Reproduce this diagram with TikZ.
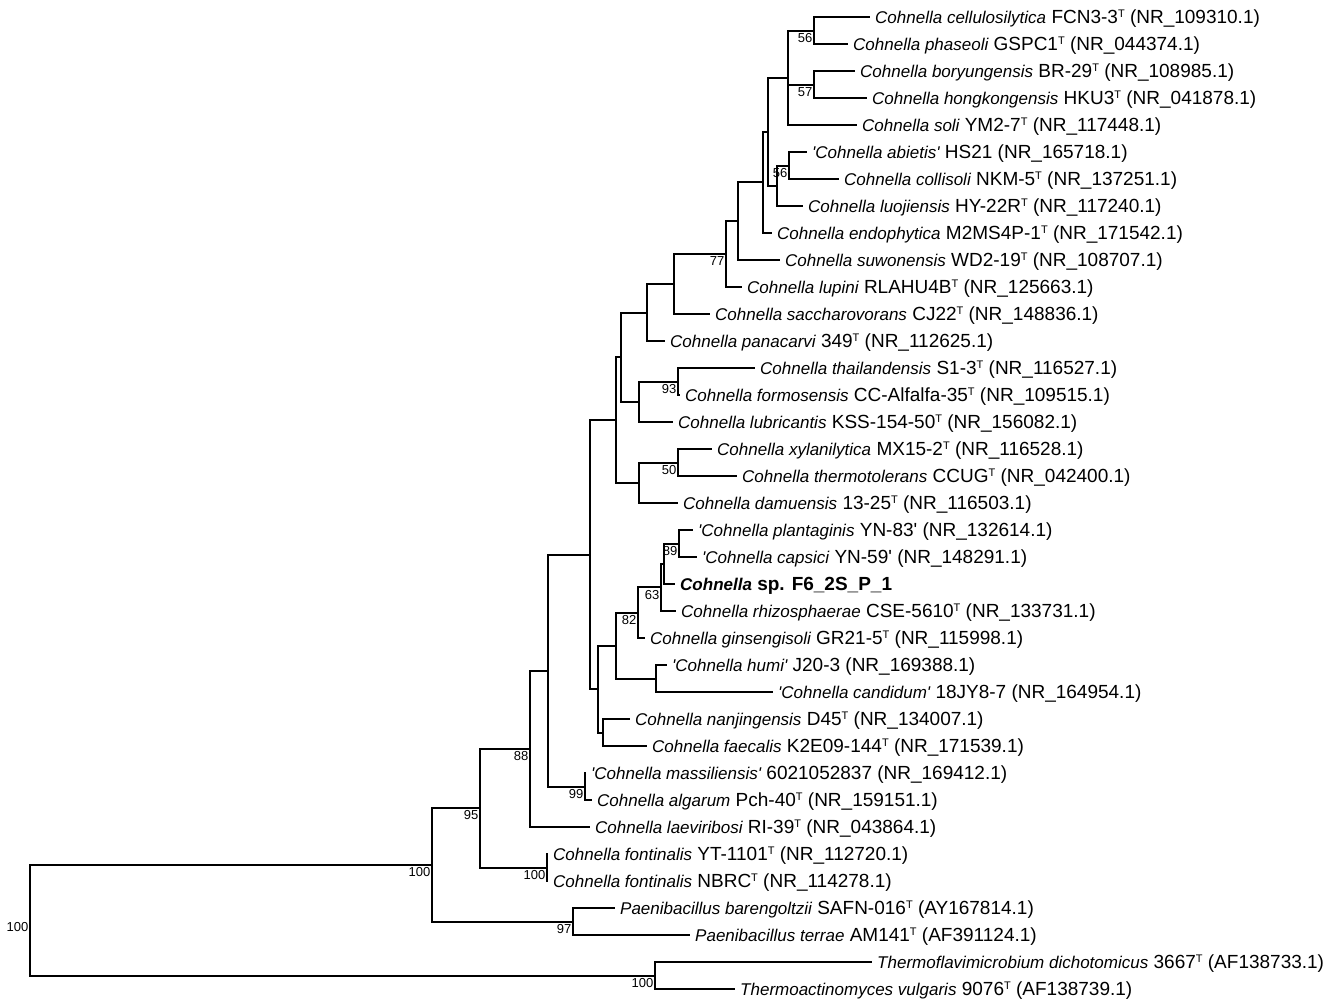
\documentclass[tikz,border=0pt]{standalone}
\usepackage{fontspec}
\setmainfont{Liberation Sans}[Ligatures=TeXOff]
\newcommand\ital[1]{{\fontsize{17}{17}\selectfont\itshape #1}}
\newcommand\tsup{\raisebox{5.6pt}{\fontsize{11}{11}\selectfont T}}
\tikzset{
  br/.style={line width=2pt, line join=miter, black},
  leaf/.style={anchor=base west, inner sep=0pt, xshift=5pt, yshift=-6.5pt, font=\fontsize{19}{19}\selectfont},
  bs/.style={anchor=north east, inner sep=0pt, xshift=-1.5pt, yshift=-2.5pt, font=\fontsize{13}{13}\selectfont}
}
\begin{document}
\begin{tikzpicture}[x=1pt,y=-1pt]
\fill[white] (0,0) rectangle (1325,1005);
\useasboundingbox (0,0) rectangle (1325,1005);
% leaf tips
\coordinate (t1) at (870,17);
\coordinate (t2) at (848,44);
\coordinate (t3) at (855,71);
\coordinate (t4) at (867,98);
\coordinate (t5) at (857,125);
\coordinate (t6) at (807,152);
\coordinate (t7) at (839,179);
\coordinate (t8) at (803,206);
\coordinate (t9) at (772,233);
\coordinate (t10) at (780,260);
\coordinate (t11) at (742,287);
\coordinate (t12) at (710,314);
\coordinate (t13) at (665,341);
\coordinate (t14) at (755,368);
\coordinate (t15) at (680,395);
\coordinate (t16) at (673,422);
\coordinate (t17) at (712,449);
\coordinate (t18) at (737,476);
\coordinate (t19) at (678,503);
\coordinate (t20) at (693,530);
\coordinate (t21) at (697,557);
\coordinate (t22) at (675,584);
\coordinate (t23) at (676,611);
\coordinate (t24) at (645,638);
\coordinate (t25) at (667,665);
\coordinate (t26) at (773,692);
\coordinate (t27) at (630,719);
\coordinate (t28) at (647,746);
\coordinate (t29) at (586,773);
\coordinate (t30) at (592,800);
\coordinate (t31) at (590,827);
\coordinate (t32) at (548,854);
\coordinate (t33) at (548,881);
\coordinate (t34) at (615,908);
\coordinate (t35) at (690,935);
\coordinate (t36) at (872,962);
\coordinate (t37) at (735,989);
% internal nodes
\coordinate (p1) at (814,30.5);
\coordinate (p2) at (814,84.5);
\coordinate (nA) at (788,77.75);
\coordinate (p3) at (789,165.5);
\coordinate (nB) at (777,185.75);
\coordinate (nC) at (768,131.75);
\coordinate (nD) at (763,182.38);
\coordinate (nE) at (738,221.19);
\coordinate (nF) at (726,254.09);
\coordinate (nG) at (674,284.05);
\coordinate (nH) at (647,312.52);
\coordinate (nJ) at (678,381.5);
\coordinate (nJJ) at (639,401.75);
\coordinate (nI) at (621,357.14);
\coordinate (nK) at (678,462.5);
\coordinate (nKK) at (639,482.75);
\coordinate (nII) at (616,419.94);
\coordinate (p89) at (679,543.5);
\coordinate (m1) at (664,563.75);
\coordinate (m2) at (661,587.38);
\coordinate (m3) at (638,612.69);
\coordinate (hc) at (656,678.5);
\coordinate (m4) at (616,645.59);
\coordinate (nf) at (603,732.5);
\coordinate (m5) at (598,689.05);
\coordinate (nN) at (590,554.49);
\coordinate (ma) at (585,786.5);
\coordinate (nO) at (548,670.5);
\coordinate (nP) at (530,748.75);
\coordinate (fo) at (547,867.5);
\coordinate (nQ) at (480,808.1);
\coordinate (pb) at (573,921.5);
\coordinate (nR) at (432,864.8);
\coordinate (th) at (655,975.5);
\coordinate (root) at (30,920.2);
% branches
\draw[br] (p1) |- (t1); \draw[br] (p1) |- (t2);
\draw[br] (p2) |- (t3); \draw[br] (p2) |- (t4);
\draw[br] (nA) |- (p1); \draw[br] (nA) |- (p2); \draw[br] (nA) |- (t5);
\draw[br] (p3) |- (t6); \draw[br] (p3) |- (t7);
\draw[br] (nB) |- (p3); \draw[br] (nB) |- (t8);
\draw[br] (nC) |- (nA); \draw[br] (nC) |- (nB);
\draw[br] (nD) |- (nC); \draw[br] (nD) |- (t9);
\draw[br] (nE) |- (nD); \draw[br] (nE) |- (t10);
\draw[br] (nF) |- (nE); \draw[br] (nF) |- (t11);
\draw[br] (nG) |- (nF); \draw[br] (nG) |- (t12);
\draw[br] (nH) |- (nG); \draw[br] (nH) |- (t13);
\draw[br] (nJ) |- (t14); \draw[br] (nJ) |- (t15);
\draw[br] (nJJ) |- (nJ); \draw[br] (nJJ) |- (t16);
\draw[br] (nI) |- (nH); \draw[br] (nI) |- (nJJ);
\draw[br] (nK) |- (t17); \draw[br] (nK) |- (t18);
\draw[br] (nKK) |- (nK); \draw[br] (nKK) |- (t19);
\draw[br] (nII) |- (nI); \draw[br] (nII) |- (nKK);
\draw[br] (p89) |- (t20); \draw[br] (p89) |- (t21);
\draw[br] (m1) |- (p89); \draw[br] (m1) |- (t22);
\draw[br] (m2) |- (m1); \draw[br] (m2) |- (t23);
\draw[br] (m3) |- (m2); \draw[br] (m3) |- (t24);
\draw[br] (hc) |- (t25); \draw[br] (hc) |- (t26);
\draw[br] (m4) |- (m3); \draw[br] (m4) |- (hc);
\draw[br] (nf) |- (t27); \draw[br] (nf) |- (t28);
\draw[br] (m5) |- (m4); \draw[br] (m5) |- (nf);
\draw[br] (nN) |- (nII); \draw[br] (nN) |- (m5);
\draw[br] (ma) |- (t29); \draw[br] (ma) |- (t30);
\draw[br] (nO) |- (nN); \draw[br] (nO) |- (ma);
\draw[br] (nP) |- (nO); \draw[br] (nP) |- (t31);
\draw[br] (fo) |- (t32); \draw[br] (fo) |- (t33);
\draw[br] (nQ) |- (nP); \draw[br] (nQ) |- (fo);
\draw[br] (pb) |- (t34); \draw[br] (pb) |- (t35);
\draw[br] (nR) |- (nQ); \draw[br] (nR) |- (pb);
\draw[br] (th) |- (t36); \draw[br] (th) |- (t37);
\draw[br] (root) |- (nR); \draw[br] (root) |- (th);
% bootstrap values
\node[bs] (b1) at (p1) {56};
\node[bs] (b2) at (p2) {57};
\node[bs] (b3) at (p3) {56};
\node[bs] (b4) at (nF) {77};
\node[bs] (b5) at (nJ) {93};
\node[bs] (b6) at (nK) {50};
\node[bs] (b7) at (p89) {89};
\node[bs] (b8) at (m2) {63};
\node[bs] (b9) at (m3) {82};
\node[bs] (b10) at (ma) {99};
\node[bs] (b11) at (nP) {88};
\node[bs] (b12) at (fo) {100};
\node[bs] (b13) at (nQ) {95};
\node[bs] (b14) at (pb) {97};
\node[bs] (b15) at (nR) {100};
\node[bs] (b16) at (th) {100};
\node[bs] (b17) at (root) {100};
% leaf labels
\node[leaf] (n1) at (t1) {\ital{Cohnella cellulosilytica} FCN3-3\tsup{} (NR\_109310.1)};
\node[leaf] (n2) at (t2) {\ital{Cohnella phaseoli} GSPC1\tsup{} (NR\_044374.1)};
\node[leaf] (n3) at (t3) {\ital{Cohnella boryungensis} BR-29\tsup{} (NR\_108985.1)};
\node[leaf] (n4) at (t4) {\ital{Cohnella hongkongensis} HKU3\tsup{} (NR\_041878.1)};
\node[leaf] (n5) at (t5) {\ital{Cohnella soli} YM2-7\tsup{} (NR\_117448.1)};
\node[leaf] (n6) at (t6) {\ital{'Cohnella abietis'} HS21 (NR\_165718.1)};
\node[leaf] (n7) at (t7) {\ital{Cohnella collisoli} NKM-5\tsup{} (NR\_137251.1)};
\node[leaf] (n8) at (t8) {\ital{Cohnella luojiensis} HY-22R\tsup{} (NR\_117240.1)};
\node[leaf] (n9) at (t9) {\ital{Cohnella endophytica} M2MS4P-1\tsup{} (NR\_171542.1)};
\node[leaf] (n10) at (t10) {\ital{Cohnella suwonensis} WD2-19\tsup{} (NR\_108707.1)};
\node[leaf] (n11) at (t11) {\ital{Cohnella lupini} RLAHU4B\tsup{} (NR\_125663.1)};
\node[leaf] (n12) at (t12) {\ital{Cohnella saccharovorans} CJ22\tsup{} (NR\_148836.1)};
\node[leaf] (n13) at (t13) {\ital{Cohnella panacarvi} 349\tsup{} (NR\_112625.1)};
\node[leaf] (n14) at (t14) {\ital{Cohnella thailandensis} S1-3\tsup{} (NR\_116527.1)};
\node[leaf] (n15) at (t15) {\ital{Cohnella formosensis} CC-Alfalfa-35\tsup{} (NR\_109515.1)};
\node[leaf] (n16) at (t16) {\ital{Cohnella lubricantis} KSS-154-50\tsup{} (NR\_156082.1)};
\node[leaf] (n17) at (t17) {\ital{Cohnella xylanilytica} MX15-2\tsup{} (NR\_116528.1)};
\node[leaf] (n18) at (t18) {\ital{Cohnella thermotolerans} CCUG\tsup{} (NR\_042400.1)};
\node[leaf] (n19) at (t19) {\ital{Cohnella damuensis} 13-25\tsup{} (NR\_116503.1)};
\node[leaf] (n20) at (t20) {\ital{'Cohnella plantaginis} YN-83' (NR\_132614.1)};
\node[leaf] (n21) at (t21) {\ital{'Cohnella capsici} YN-59' (NR\_148291.1)};
\node[leaf] (n22) at (t22) {\bfseries\ital{Cohnella} sp. F6\_2S\_P\_1};
\node[leaf] (n23) at (t23) {\ital{Cohnella rhizosphaerae} CSE-5610\tsup{} (NR\_133731.1)};
\node[leaf] (n24) at (t24) {\ital{Cohnella ginsengisoli} GR21-5\tsup{} (NR\_115998.1)};
\node[leaf] (n25) at (t25) {\ital{'Cohnella humi'} J20-3 (NR\_169388.1)};
\node[leaf] (n26) at (t26) {\ital{'Cohnella candidum'} 18JY8-7 (NR\_164954.1)};
\node[leaf] (n27) at (t27) {\ital{Cohnella nanjingensis} D45\tsup{} (NR\_134007.1)};
\node[leaf] (n28) at (t28) {\ital{Cohnella faecalis} K2E09-144\tsup{} (NR\_171539.1)};
\node[leaf] (n29) at (t29) {\ital{'Cohnella massiliensis'} 6021052837 (NR\_169412.1)};
\node[leaf] (n30) at (t30) {\ital{Cohnella algarum} Pch-40\tsup{} (NR\_159151.1)};
\node[leaf] (n31) at (t31) {\ital{Cohnella laeviribosi} RI-39\tsup{} (NR\_043864.1)};
\node[leaf] (n32) at (t32) {\ital{Cohnella fontinalis} YT-1101\tsup{} (NR\_112720.1)};
\node[leaf] (n33) at (t33) {\ital{Cohnella fontinalis} NBRC\tsup{} (NR\_114278.1)};
\node[leaf] (n34) at (t34) {\ital{Paenibacillus barengoltzii} SAFN-016\tsup{} (AY167814.1)};
\node[leaf] (n35) at (t35) {\ital{Paenibacillus terrae} AM141\tsup{} (AF391124.1)};
\node[leaf] (n36) at (t36) {\ital{Thermoflavimicrobium dichotomicus} 3667\tsup{} (AF138733.1)};
\node[leaf] (n37) at (t37) {\ital{Thermoactinomyces vulgaris} 9076\tsup{} (AF138739.1)};
\end{tikzpicture}
\end{document}
